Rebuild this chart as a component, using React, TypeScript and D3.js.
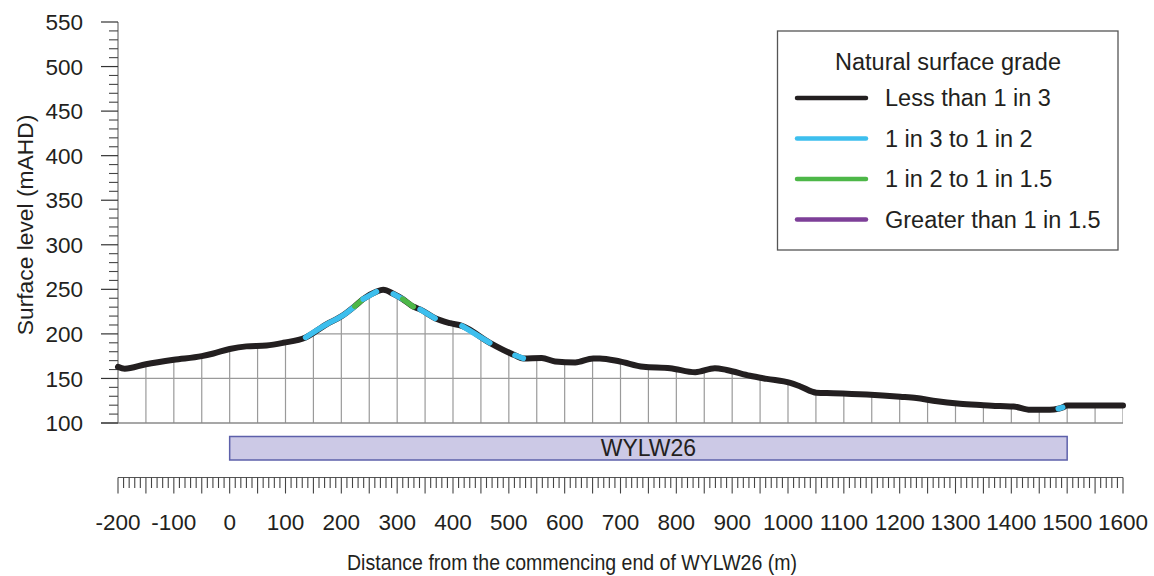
import React from 'react';
import * as d3 from 'd3';

// profile along the panel centreline
const distance = [-200, -188, -150, -100, -50, -29, 0, 30, 66, 96, 136, 174, 201, 224, 239, 263, 275, 293, 310, 329, 341, 368, 395, 416, 466, 511, 526, 559, 583, 619, 651, 663, 699, 741, 789, 834, 869, 890, 932, 962, 1004, 1022, 1051, 1081, 1141, 1201, 1230, 1260, 1308, 1350, 1380, 1404, 1434, 1469, 1484, 1492, 1499, 1550, 1600];
const level = [163, 161, 166, 171, 175, 178, 183, 186, 187, 190, 196, 211, 220, 231, 239, 247.5, 249.5, 245, 239, 230.5, 227.5, 217.5, 212, 209, 190, 176, 172.5, 173, 169, 168, 172.5, 172.5, 169, 163, 161.5, 157, 161.5, 159.5, 153, 149.5, 145, 141, 134, 133.5, 132, 129.5, 128, 125, 121.5, 120, 119, 118.5, 114.8, 114.8, 116, 117.5, 119.5, 119.5, 119.5];
// grade class of the segment that starts at each point (0..3)
const grade = [0, 0, 0, 0, 0, 0, 0, 0, 0, 0, 1, 1, 1, 2, 1, 0, 0, 1, 2, 0, 1, 0, 0, 1, 0, 1, 0, 0, 0, 0, 0, 0, 0, 0, 0, 0, 0, 0, 0, 0, 0, 0, 0, 0, 0, 0, 0, 0, 0, 0, 0, 0, 0, 0, 1, 0, 0, 0, 0];

const gradeLabels = ['Less than 1 in 3', '1 in 3 to 1 in 2', '1 in 2 to 1 in 1.5', 'Greater than 1 in 1.5'];
const gradeColors = ['#231F20', '#3DBFEE', '#4DB748', '#7D3F98'];

const panelName = 'WYLW26';
const panelStart = 0;
const panelEnd = 1500;

const xTicks = d3.range(-200, 1601, 100);
const yTicks = d3.range(100, 551, 50);

const W = 1154;
const H = 576;
const font = '"Liberation Sans", Arial, sans-serif';
const ink = '#231F20';

export default function App() {
  const x = d3.scaleLinear().domain([-200, 1600]).range([118, 1123]);
  const y = d3.scaleLinear().domain([100, 550]).range([423, 22]);

  const pts = distance.map((d, i) => ({ d, v: level[i], g: grade[i] }));

  const line = d3.line<any>().x(p => x(p.d)).y(p => y(p.v)).curve(d3.curveMonotoneX);
  const area = d3.area<any>().x(p => x(p.d)).y0(y(100)).y1(p => y(p.v)).curve(d3.curveMonotoneX);

  // split into runs of the same grade
  const runs: { g: number; pts: any[] }[] = [];
  for (let i = 0; i < pts.length - 1; i++) {
    const last = runs[runs.length - 1];
    if (last && last.g === pts[i].g) last.pts.push(pts[i + 1]);
    else runs.push({ g: pts[i].g, pts: [pts[i], pts[i + 1]] });
  }

  const gridX = d3.range(-150, 1601, 50);
  const gridY = d3.range(150, 300, 50);
  const minorY = d3.range(100, 551, 10).filter(v => v % 50 !== 0);
  const minorX = d3.range(-200, 1601, 10);

  const legendX = 777.5;
  const legendY = 31;

  return (
    <>
      <style>{`body{margin:0}`}</style>
      <svg width={W} height={H} style={{ display: 'block', fontFamily: font }}>
        <rect width={W} height={H} fill="#fff" />
        <defs>
          <clipPath id="under">
            <path d={area(pts) || ''} />
          </clipPath>
        </defs>

        {/* grid under the profile */}
        <g clipPath="url(#under)" stroke="#9a9a9a" strokeWidth={1.2}>
          {gridX.map(d => (
            <line key={'gx' + d} x1={x(d)} x2={x(d)} y1={y(100)} y2={y(300)} />
          ))}
          {gridY.map(v => (
            <line key={'gy' + v} x1={x(-200)} x2={x(1600)} y1={y(v)} y2={y(v)} />
          ))}
        </g>

        {/* base line at 100 */}
        <line x1={101} x2={x(1600)} y1={y(100)} y2={y(100)} stroke="#8a8a8a" strokeWidth={1.3} />

        {/* y axis */}
        <line x1={x(-200)} x2={x(-200)} y1={y(550)} y2={y(100)} stroke="#7a7a7a" strokeWidth={1.3} />
        {yTicks.map(v => (
          <g key={'yt' + v}>
            <line x1={101} x2={x(-200)} y1={y(v)} y2={y(v)} stroke="#333" strokeWidth={1.2} />
            <text x={83} y={y(v)} dy="0.36em" textAnchor="end" fontSize={22.5} fill={ink}>{v}</text>
          </g>
        ))}
        {minorY.map(v => (
          <line key={'ym' + v} x1={109} x2={x(-200)} y1={y(v)} y2={y(v)} stroke="#444" strokeWidth={1.1} />
        ))}
        <text transform={`translate(33,225) rotate(-90)`} textAnchor="middle" fontSize={22.8} fill={ink}>Surface level (mAHD)</text>

        {/* profile */}
        <path d={line(pts) || ''} fill="none" stroke={gradeColors[0]} strokeWidth={6} strokeLinejoin="round" strokeLinecap="round" />
        {runs.filter(r => r.g !== 0).map((r, i) => (
          <path key={'run' + i} d={line(r.pts) || ''} fill="none" stroke={gradeColors[r.g]} strokeWidth={5.5} strokeLinejoin="round" strokeLinecap="round" />
        ))}

        {/* panel bar */}
        <rect x={x(panelStart)} y={436.5} width={x(panelEnd) - x(panelStart)} height={23.5} fill="#CCC9E6" stroke="#5D60AA" strokeWidth={1.5} />
        <text x={(x(panelStart) + x(panelEnd)) / 2} y={456} textAnchor="middle" fontSize={23} fill={ink}>{panelName}</text>

        {/* bottom distance axis */}
        <line x1={x(-200)} x2={x(1600)} y1={477.5} y2={477.5} stroke="#555" strokeWidth={1.2} />
        {minorX.map(d => (
          <line key={'xm' + d} x1={x(d)} x2={x(d)} y1={477.5} y2={d % 50 === 0 ? 493.5 : 488} stroke="#444" strokeWidth={1.1} />
        ))}
        {xTicks.map(d => (
          <text key={'xt' + d} x={x(d)} y={530} textAnchor="middle" fontSize={22.5} fill={ink}>{d}</text>
        ))}
        <text x={572} y={570} textAnchor="middle" fontSize={22} textLength={450} lengthAdjust="spacingAndGlyphs" fill={ink}>Distance from the commencing end of WYLW26 (m)</text>

        {/* legend */}
        <rect x={legendX} y={legendY} width={340.5} height={219} fill="#fff" stroke="#555" strokeWidth={1.3} />
        <text x={948} y={70} textAnchor="middle" fontSize={23.5} fill={ink}>Natural surface grade</text>
        {gradeLabels.map((lab, i) => {
          const ly = 98 + i * 40.5;
          return (
            <g key={'lg' + i}>
              <line x1={797} x2={866} y1={ly} y2={ly} stroke={gradeColors[i]} strokeWidth={4.5} strokeLinecap="round" />
              <text x={885} y={ly} dy="0.36em" fontSize={23.5} fill={ink}>{lab}</text>
            </g>
          );
        })}
      </svg>
    </>
  );
}
